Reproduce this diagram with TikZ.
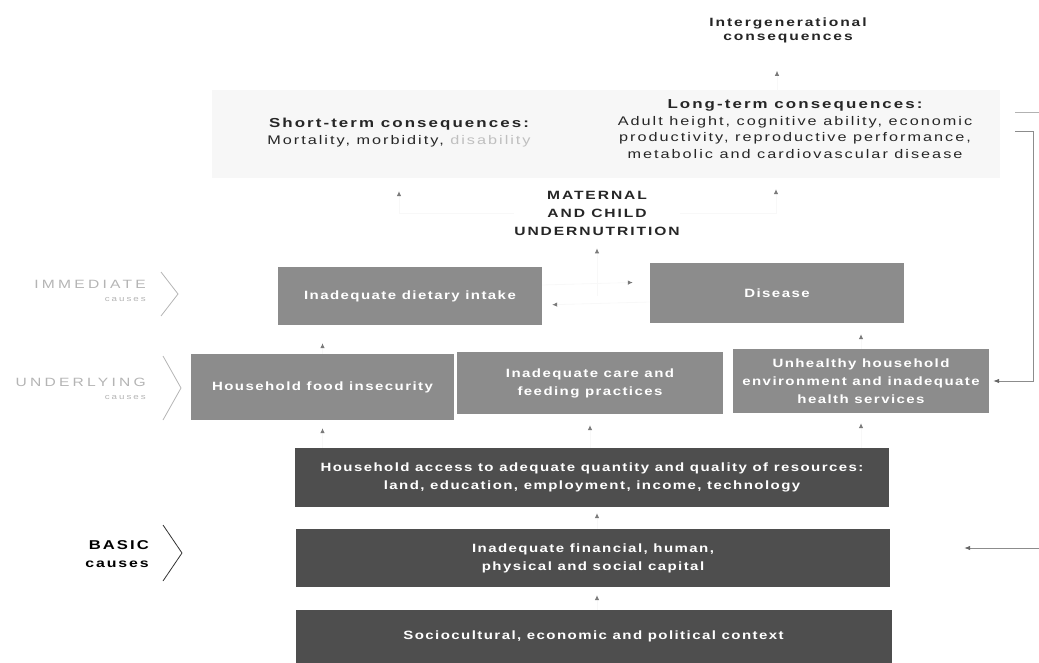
\documentclass[tikz,border=0pt]{standalone}
\usepackage{fontspec}
\setmainfont{Liberation Sans}
\newfontfamily\labfont[FakeStretch=1.3,LetterSpace=16]{Liberation Sans}
\newfontfamily\boxfont[FakeStretch=1.25,LetterSpace=12]{Liberation Sans}
\newfontfamily\sidefont[FakeStretch=1.3,LetterSpace=27]{Liberation Sans}
\usetikzlibrary{arrows.meta}
\definecolor{midbox}{HTML}{8C8C8C}
\definecolor{darkbox}{HTML}{4E4E4E}
\definecolor{fadeline}{HTML}{F8F8F8}
\definecolor{tipgray}{HTML}{7A7A7A}
\definecolor{labelgray}{HTML}{B4B4B4}
\begin{document}
\begin{tikzpicture}[x=1pt,y=-1pt,
  box/.style={draw=none,text=white,align=center,inner sep=0pt,
    font=\boxfont\bfseries\fontsize{12}{18}\selectfont},
  midcause/.style={box,fill=midbox},
  basiccause/.style={box,fill=darkbox},
  headtext/.style={align=center,inner sep=0pt,text=black!85},
  link/.style={draw=fadeline,line width=0.8pt,
    -{Latex[length=5pt,width=4.5pt,color=tipgray]}},
  feedback/.style={draw=black!45,line width=0.8pt,
    -{Latex[length=6pt,width=4.5pt,color=black!60]}},
  chevron/.style={draw=#1,line width=0.8pt},
  level/.style={align=right,inner sep=0pt,anchor=east}]

\useasboundingbox (0,0) rectangle (1039,663);

% faint band behind the consequences
\fill[black!3] (212,90) rectangle (1000,178);

% consequences
\node[headtext,font=\labfont\bfseries\fontsize{12}{14}\selectfont] (inter) at (788,30)
  {Intergenerational\\consequences};
\node[headtext,font=\labfont\fontsize{12.5}{16.8}\selectfont,minimum height=76pt] (long) at (795,129)
  {{\bfseries\fontsize{13}{16.8}\selectfont Long-term consequences:}\\
   Adult height, cognitive ability, economic\\
   productivity, reproductive performance,\\
   metabolic and cardiovascular disease};
\node[headtext,font=\labfont\fontsize{12.5}{17}\selectfont,minimum height=76pt] (short) at (399,133)
  {{\bfseries\fontsize{13}{17}\selectfont Short-term consequences:}\\
   Mortality, morbidity, {\color{black!25}disability}};
\node[headtext,font=\labfont\bfseries\fontsize{12}{18}\selectfont] (under) at (597,213)
  {MATERNAL\\AND CHILD\\UNDERNUTRITION};

% immediate causes
\node[midcause,minimum width=264pt,minimum height=58pt] (diet) at (410,296)
  {Inadequate dietary intake};
\node[midcause,minimum width=254pt,minimum height=60pt] (disease) at (777,293)
  {Disease};
\coordinate (pair) at (597,296);

% underlying causes
\node[midcause,minimum width=263pt,minimum height=66pt] (food) at (322.5,387)
  {Household food insecurity};
\node[midcause,minimum width=266pt,minimum height=62pt] (care) at (590,383)
  {Inadequate care and\\feeding practices};
\node[midcause,minimum width=256pt,minimum height=64pt] (health) at (861,381)
  {Unhealthy household\\environment and inadequate\\health services};

% basic causes
\node[basiccause,minimum width=594pt,minimum height=59pt] (access) at (592,477.5)
  {Household access to adequate quantity and quality of resources:\\
   land, education, employment, income, technology};
\node[basiccause,minimum width=594pt,minimum height=58pt] (capital) at (593,558)
  {Inadequate financial, human,\\physical and social capital};
\node[basiccause,minimum width=596pt,minimum height=53pt] (context) at (593.5,636.5)
  {Sociocultural, economic and political context};

% level labels with chevrons
\node[level,text=labelgray,font=\sidefont\fontsize{12}{14}\selectfont] (immlab) at (146,291)
  {IMMEDIATE\\[-1pt]{\fontsize{7.5}{9}\selectfont causes}};
\draw[chevron=labelgray] (161,272) -- (178,294) -- (161,316);
\node[level,text=labelgray,font=\sidefont\fontsize{12}{14}\selectfont] (undlab) at (146,389)
  {UNDERLYING\\[-1pt]{\fontsize{7.5}{9}\selectfont causes}};
\draw[chevron=labelgray] (163,356) -- (181,388) -- (163,420);
\node[level,text=black,font=\labfont\bfseries\fontsize{12.8}{18}\selectfont] (baslab) at (149,554)
  {BASIC\\{\fontsize{12.2}{14}\selectfont causes}};
\draw[chevron=black!80] (163,525) -- (182,553) -- (163,581);

% causal links
\draw[link,shorten >=28pt] (long.north -| 777,0) -- (inter.south -| 777,0);
\draw[link,shorten >=20pt] (under.west) -| (short.south);
\draw[link,shorten >=22pt] (under.east) -| (long.south -| 776,0);
\draw[link,shorten >=13pt] (pair) -- (under.south);
\draw[link,shorten >=10pt] ([yshift=-9pt]disease.west) -- ([yshift=-9pt]diet.east);
\draw[link,shorten >=17pt] ([yshift=11pt]diet.east) -- ([yshift=11pt]disease.west);
\draw[link,shorten >=18pt] (food.north) -- (food.north |- diet.south);
\draw[link,shorten >=11pt] (health.north) -- (health.north |- disease.south);
\draw[link,shorten >=8pt] (food.south |- access.north) -- (food.south);
\draw[link,shorten >=11pt] (care.south |- access.north) -- (care.south);
\draw[link,shorten >=10pt] (health.south |- access.north) -- (health.south);
\draw[link,shorten >=6pt] (capital.north -| 597,0) -- (access.south -| 597,0);
\draw[link,shorten >=8pt] (context.north -| 597,0) -- (capital.south -| 597,0);

% feedback from long-term consequences to the underlying causes
\draw[black!30,line width=0.6pt] (1015,112) -- (1039,112);
\coordinate (fbstart) at (1015,131);
\draw[feedback,shorten >=4pt] (fbstart) -- (1033,131) |- (health.east);
\coordinate (outside) at (1039,548);
\draw[feedback,shorten >=74pt] (outside) -- (capital.east |- outside);
\end{tikzpicture}
\end{document}
